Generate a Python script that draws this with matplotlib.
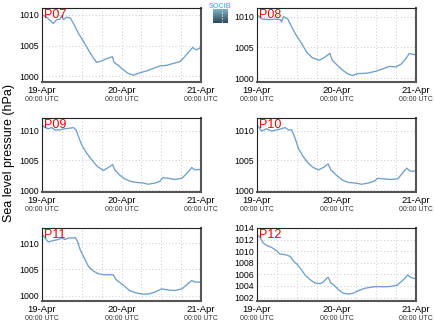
import numpy as np
import matplotlib
matplotlib.use("Agg")
import matplotlib.pyplot as plt

plt.rcParams['font.family'] = ['Liberation Sans', 'DejaVu Sans']

stations = ["P07", "P08", "P09", "P10", "P11", "P12"]

p07_h = [0, 1.4, 3.4, 4.4, 5.4, 6.0, 6.4, 7.4, 8.5, 9.5, 11, 12.5, 14, 15.5, 16.5, 18, 19.5, 21.3, 21.7, 23, 24.5, 26, 27.6, 29.6, 31.6, 33.6, 35.6, 37.6, 39.6, 41.6, 42.6, 44, 45.5, 46.5, 48]
p07_v = [1010.0, 1009.6, 1008.6, 1009.2, 1009.3, 1009.9, 1009.2, 1009.6, 1009.5, 1008.6, 1007.0, 1005.7, 1004.3, 1003.0, 1002.3, 1002.5, 1002.9, 1003.2, 1002.3, 1001.8, 1001.1, 1000.5, 1000.2, 1000.6, 1000.9, 1001.3, 1001.7, 1001.8, 1002.1, 1002.4, 1002.9, 1003.8, 1004.7, 1004.3, 1004.7]

p08_h = [0, 1.5, 3.6, 5.6, 7.1, 7.4, 8, 9.3, 10.3, 11.9, 13.5, 15, 16.7, 18.7, 20.2, 22, 22.7, 24.2, 25.8, 27.3, 28.8, 30.3, 33.4, 35.9, 38, 40, 42, 43.6, 45, 46, 47.6, 48]
p08_v = [1010.3, 1009.6, 1009.5, 1009.6, 1009.5, 1009.1, 1010.0, 1009.6, 1008.5, 1006.9, 1005.6, 1004.2, 1003.3, 1002.9, 1003.3, 1004.0, 1002.9, 1002.1, 1001.3, 1000.7, 1000.4, 1000.7, 1000.8, 1001.1, 1001.5, 1001.9, 1001.8, 1002.3, 1003.2, 1004.0, 1003.8, 1003.8]

p09_h = [0, 0.9, 1.9, 2.9, 3.9, 5.4, 6.9, 8.5, 9.5, 10.3, 11, 12, 13.5, 15, 16.5, 18.5, 20, 21.3, 22, 23.5, 25, 26.6, 28.6, 30.6, 32.1, 34.1, 35.6, 36.4, 38.1, 40.1, 42.2, 43.7, 45.2, 46.2, 48]
p09_v = [1010.95, 1010.5, 1010.3, 1010.5, 1010.1, 1010.1, 1010.3, 1010.4, 1010.5, 1010.1, 1009.0, 1007.6, 1006.2, 1005.1, 1004.1, 1003.3, 1003.8, 1004.3, 1003.4, 1002.5, 1001.9, 1001.5, 1001.3, 1001.2, 1001.0, 1001.2, 1001.5, 1002.1, 1002.0, 1001.8, 1002.0, 1002.8, 1003.8, 1003.4, 1003.5]

p10_h = [0, 1.4, 2.9, 4.4, 5.9, 7.4, 8.5, 9.5, 10.5, 11.5, 12.5, 14, 15.5, 17, 18.5, 20, 21.5, 22.3, 24, 25.8, 27.6, 29.6, 31.6, 33.6, 35.4, 36.4, 38.1, 40.1, 42.5, 43.7, 45.2, 46.2, 48]
p10_v = [1010.95, 1009.9, 1010.3, 1009.9, 1010.1, 1010.3, 1010.5, 1010.1, 1010.1, 1008.7, 1007.0, 1005.6, 1004.5, 1003.8, 1003.4, 1003.8, 1004.4, 1003.4, 1002.5, 1001.7, 1001.3, 1001.2, 1001.0, 1001.2, 1001.5, 1002.0, 1001.9, 1001.8, 1001.9, 1002.7, 1003.7, 1003.2, 1003.2]

p11_h = [0, 0.9, 1.9, 3.4, 4.9, 5.9, 6.9, 8, 9.5, 10, 10.7, 11.5, 12.5, 14, 15.5, 17, 18.5, 20, 21.5, 22.3, 23.5, 25, 26.4, 28.1, 29.6, 31.1, 32.6, 34.1, 36.1, 38.1, 40.1, 42.2, 43.7, 45.2, 46.2, 48]
p11_v = [1011.8, 1011.0, 1010.25, 1010.5, 1010.7, 1011.0, 1010.7, 1011.0, 1011.0, 1011.1, 1010.4, 1008.8, 1007.5, 1005.6, 1004.7, 1004.2, 1004.0, 1004.0, 1004.0, 1003.1, 1002.5, 1001.8, 1001.0, 1000.6, 1000.4, 1000.3, 1000.4, 1000.7, 1001.3, 1001.1, 1001.0, 1001.3, 1002.1, 1002.9, 1002.6, 1002.6]

p12_h = [0, 0.9, 1.9, 2.9, 4.4, 5.9, 6.9, 8.5, 10, 11, 12, 13, 14.5, 16, 17.5, 19, 20, 21, 21.5, 22.3, 23.5, 24.7, 26, 27.6, 29.1, 30.6, 32.6, 34.6, 36.1, 38.1, 40.1, 42.2, 43.7, 44.7, 45.5, 46.5, 48]
p12_v = [1012.85, 1012.4, 1011.4, 1011.0, 1010.65, 1010.1, 1009.5, 1009.4, 1009.1, 1008.3, 1007.8, 1007.1, 1005.9, 1005.1, 1004.5, 1004.4, 1004.65, 1005.3, 1005.5, 1004.5, 1004.0, 1003.3, 1002.75, 1002.6, 1002.75, 1003.2, 1003.6, 1003.8, 1003.9, 1003.85, 1003.9, 1004.1, 1004.8, 1005.35, 1005.9, 1005.45, 1005.2]

hours = [p07_h, p08_h, p09_h, p10_h, p11_h, p12_h]
values = [p07_v, p08_v, p09_v, p10_v, p11_v, p12_v]

date_labels = ["19-Apr", "20-Apr", "21-Apr"]
date_hours = [0, 24, 48]
time_label = "00:00 UTC"

ylims = [(999.1, 1011.1), (999.35, 1011.4), (999.7, 1012.1),
         (999.7, 1012.1), (999.0, 1012.9), (1001.4, 1014.0)]
yticks = [[1000, 1005, 1010]] * 5 + [[1002, 1004, 1006, 1008, 1010, 1012, 1014]]

W, H = 435, 327
fig = plt.figure(figsize=(W / 100, H / 100), dpi=100)

col_x = [42, 257]
row_y = [(8, 82), (118, 192), (228, 301)]
aw = 159

line_color = '#6f9fcc'

for i, name in enumerate(stations):
    r, c = divmod(i, 2)
    y0, y1 = row_y[r]
    ax = fig.add_axes([col_x[c] / W, 1 - y1 / H, aw / W, (y1 - y0) / H])
    ax.plot(hours[i], values[i], color=line_color, lw=0.95)
    ax.set_xlim(0, 48)
    ax.set_ylim(*ylims[i])
    ax.set_xticks(np.arange(0, 49, 6))
    ax.set_xticklabels([date_labels[date_hours.index(t)] if t in date_hours else ""
                        for t in range(0, 49, 6)], fontsize=6.8)
    ax.set_yticks(yticks[i])
    ax.set_yticklabels([str(v) for v in yticks[i]], fontsize=6.3)
    ax.tick_params(axis='both', length=0)
    ax.tick_params(axis='x', pad=3.2)
    ax.tick_params(axis='y', pad=2)
    ax.grid(True, linestyle=(0, (1, 3)), color='#b8b8b8', lw=0.6)
    for s in ['left', 'top']:
        ax.spines[s].set_color('#222222')
        ax.spines[s].set_linewidth(0.8)
    for s in ['right', 'bottom']:
        ax.spines[s].set_color('#555555')
        ax.spines[s].set_linewidth(1.5)
    for t in date_hours:
        ax.annotate(time_label, xy=(t, 0), xycoords=('data', 'axes fraction'),
                    xytext=(0, -12.3), textcoords='offset points',
                    ha='center', va='center', fontsize=5.0, color='#333333')
    ax.text(0.012, 0.985, name, transform=ax.transAxes, color='red',
            fontsize=9, ha='left', va='top')

fig.text(0.02, 1 - 153.5 / H, "Sea level pressure (hPa)", rotation=90,
         ha='center', va='center', fontsize=9)

# SOCIB logo
fig.text(220.5 / W, 1 - 6 / H, "SOCIB", color='#55c3dd', fontsize=5.2,
         ha='center', va='center', fontweight='bold')
lax = fig.add_axes([213 / W, 1 - 23 / H, 15 / W, 14 / H])
grad = np.linspace(0, 1, 50).reshape(-1, 1)
cmap = matplotlib.colors.LinearSegmentedColormap.from_list('g', ['#7fb6c6', '#2d4655'])
lax.imshow(grad, aspect='auto', cmap=cmap, extent=[0, 1, 0, 1], origin='upper')
lax.plot([0.6, 0.6], [0.05, 0.95], color='white', lw=0.8, linestyle=':')
lax.set_xlim(0, 1)
lax.set_ylim(0, 1)
lax.axis('off')

fig.savefig("out.png", dpi=100)
